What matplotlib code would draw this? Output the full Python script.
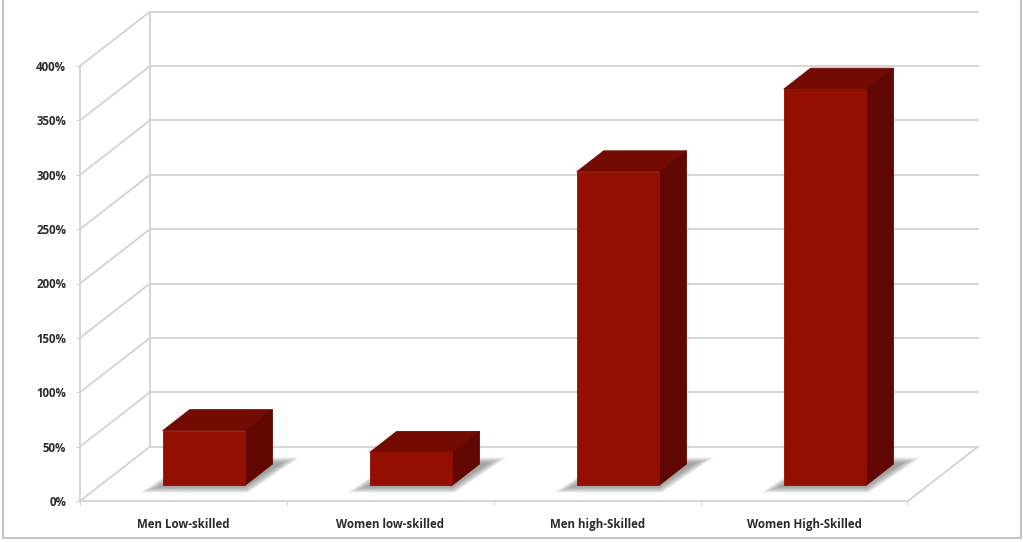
import matplotlib
matplotlib.use("Agg")
import matplotlib.pyplot as plt
from matplotlib.patches import Polygon, Rectangle

categories = ["Men Low-skilled", "Women low-skilled", "Men high-Skilled", "Women High-Skilled"]
values = [50, 30, 288, 364]
y_ticks = [0, 50, 100, 150, 200, 250, 300, 350, 400]

# fake 3d: how far one unit of depth moves a point, in data units
depth_x = 0.338
depth_y = 50
bar_width = 0.40
bar_front = 0.294
bar_back = 0.68

grid_colour = "#d2d2d2"
front_colour = "#931000"
top_colour = "#740b00"
side_colour = "#5f0700"
text_colour = "#2a2a2a"


def project(x, y, d):
    return (x + depth_x*d, y + depth_y*d)


def add_shape(ax, points, colour, zorder, alpha=1.0, edge=False):
    ax.add_patch(Polygon(points, closed=True, facecolor=colour, edgecolor=colour if edge else "none",
                         linewidth=0.6, alpha=alpha, zorder=zorder, clip_on=False))


plt.rcParams["font.family"] = ["Open Sans", "DejaVu Sans"]
fig = plt.figure(figsize=(10.23, 5.42), dpi=100)
fig.patches.append(Rectangle((2.5/1023, 4/542), 1018/1023, 560/542, transform=fig.transFigure,
                             facecolor="white", edgecolor="#c4c4c4", linewidth=1.5, zorder=-1))

ax = fig.add_axes([80/1023, 41/542, 828/1023, 435/542])
ax.patch.set_alpha(0)
ax.set_xlim(0, 4)
ax.set_ylim(0, 400)

# walls and floor
for tick in y_ticks + [450]:
    if 0 < tick < 450:
        ax.plot([0, depth_x], [tick, tick + depth_y], color=grid_colour, lw=1.3, clip_on=False, zorder=1)
    if tick > 0:
        ax.plot([depth_x, 4 + depth_x], [tick, tick], color=grid_colour, lw=1.3, clip_on=False, zorder=1)
ax.plot([0, depth_x], [0, depth_y], color=grid_colour, lw=1.3, clip_on=False, zorder=1)
ax.plot([depth_x, depth_x], [depth_y, 450], color=grid_colour, lw=1.3, clip_on=False, zorder=1)
ax.plot([4, 4 + depth_x], [0, depth_y], color=grid_colour, lw=1.3, clip_on=False, zorder=1)

# bars with their soft floor shadow
for i, value in enumerate(values):
    x0 = i + 0.5 - bar_width/2
    x1 = x0 + bar_width
    for step in range(10):
        grow = 0.006*(10 - step)
        grow_d = 0.012*(10 - step)
        add_shape(ax, [project(x0 - grow, 0, bar_front - 0.02 - grow_d),
                       project(x1 + grow, 0, bar_front - 0.02 - grow_d),
                       project(x1 + 0.03 + grow, 0, bar_back + grow_d),
                       project(x0 + 0.03 - grow, 0, bar_back + grow_d)],
                  "#6e6e6e", 2, alpha=0.09)
    add_shape(ax, [project(x0, value, bar_front), project(x1, value, bar_front),
                   project(x1, value, bar_back), project(x0, value, bar_back)], top_colour, 3, edge=True)
    add_shape(ax, [project(x1, 0, bar_front), project(x1, 0, bar_back),
                   project(x1, value, bar_back), project(x1, value, bar_front)], side_colour, 3, edge=True)
    add_shape(ax, [project(x0, 0, bar_front), project(x1, 0, bar_front),
                   project(x1, value, bar_front), project(x0, value, bar_front)], front_colour, 4, edge=True)

for name in ["top", "right"]:
    ax.spines[name].set_visible(False)
for name in ["left", "bottom"]:
    ax.spines[name].set_color(grid_colour)
    ax.spines[name].set_linewidth(1.3)

ax.set_yticks(y_ticks)
ax.set_yticklabels([f"{t}%" for t in y_ticks], fontsize=8.3, fontweight="bold", color=text_colour)
ax.set_xticks(range(5))
ax.set_xticklabels([])
ax.set_xticks([i + 0.5 for i in range(4)], minor=True)
ax.set_xticklabels(categories, minor=True, fontsize=8.3, fontweight="bold", color=text_colour)
ax.tick_params(axis="x", which="major", length=3, color=grid_colour)
ax.tick_params(axis="x", which="minor", length=0, pad=12)
ax.tick_params(axis="y", length=3, color=grid_colour, pad=7)

fig.savefig("out.png", dpi=100)
